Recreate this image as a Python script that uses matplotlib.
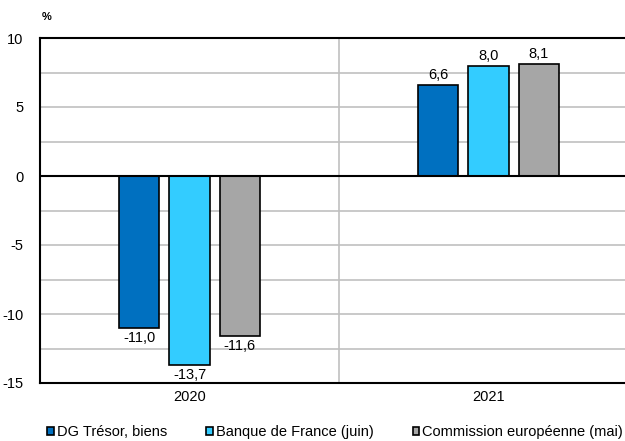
import numpy as np
import matplotlib.pyplot as plt

plt.rcParams['font.family'] = ['Liberation Sans', 'DejaVu Sans']
plt.rcParams['axes.unicode_minus'] = False

years = ['2020', '2021']
series = ['DG Trésor, biens', 'Banque de France (juin)', 'Commission européenne (mai)']
dg_tresor = [-11.0, 6.6]
banque_france = [-13.7, 8.0]
commission = [-11.6, 8.1]
colors = ['#0070c0', '#33ccff', '#a6a6a6']
values = [dg_tresor, banque_france, commission]

fig = plt.figure(figsize=(6.25, 4.41), dpi=100)
ax = fig.add_axes([40 / 625, 1 - 383 / 441, 598 / 625, 345 / 441])

x = np.arange(len(years))
width = 0.134
step = 0.168
for i, (vals, col, name) in enumerate(zip(values, colors, series)):
    pos = x + (i - 1) * step
    bars = ax.bar(pos, vals, width, color=col, edgecolor='black', linewidth=1.2,
                  label=name, zorder=3)
    for b, v in zip(bars, vals):
        txt = f'{v:.1f}'.replace('.', ',')
        if v >= 0:
            ax.annotate(txt, (b.get_x() + b.get_width() / 2, v), xytext=(0, 2),
                        textcoords='offset points', ha='center', va='bottom', fontsize=10.5)
        else:
            ax.annotate(txt, (b.get_x() + b.get_width() / 2, v), xytext=(0, -2),
                        textcoords='offset points', ha='center', va='top', fontsize=10.5)

ax.set_xlim(-0.5, 1.5)
ax.set_ylim(-15, 10)
ax.set_yticks(np.arange(-15, 11, 5))
ax.set_yticks(np.arange(-15, 11, 2.5), minor=True)
ax.grid(axis='y', which='both', color='#c0c0c0', linewidth=1.2, zorder=0)
ax.axvline(0.5, color='#c0c0c0', linewidth=1.2, zorder=0)
ax.axhline(0, color='black', linewidth=1.5, zorder=4)
ax.set_xticks(x)
ax.set_xticklabels(years)
ax.tick_params(axis='both', which='both', length=0, labelsize=10.5)
ax.tick_params(axis='y', pad=12)
ax.tick_params(axis='x', pad=5)
for side in ['left', 'top', 'bottom']:
    ax.spines[side].set_linewidth(1.5)
ax.spines['right'].set_visible(False)

fig.text(42 / 625, 1 - 17 / 441, '%', fontsize=8, fontweight='bold', va='center')

fig.legend(loc='center', bbox_to_anchor=(0.536, 1 - 432 / 441), ncol=3, frameon=False,
           fontsize=10.5, handlelength=0.45, handleheight=0.45, handletextpad=0.2,
           columnspacing=2.7)

fig.savefig('out.png', dpi=100)
